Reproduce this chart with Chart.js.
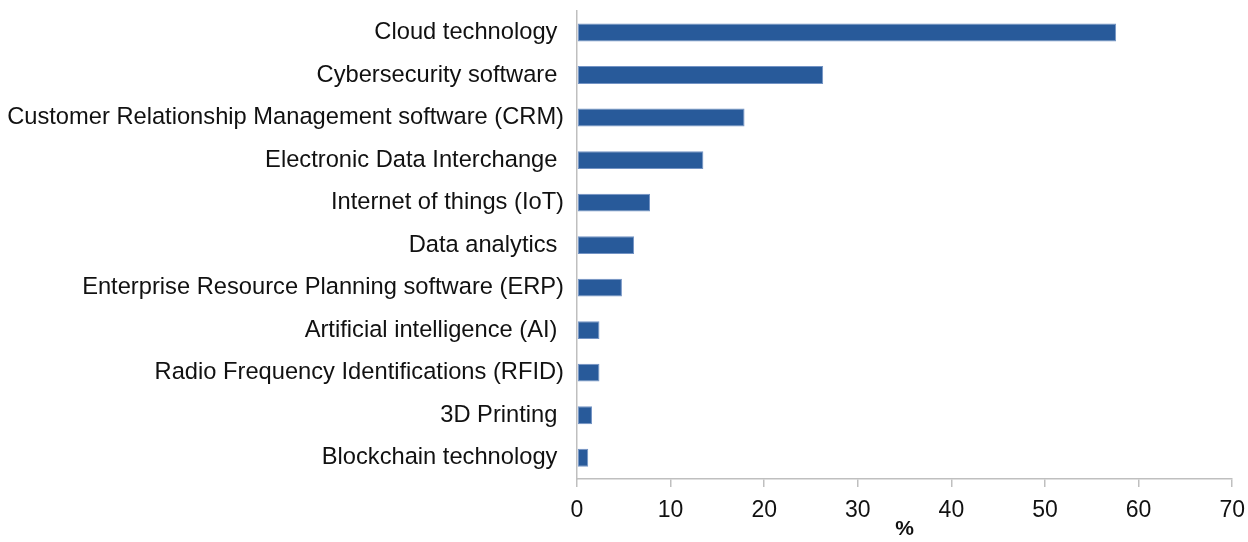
<!DOCTYPE html>
<html>
<head>
<meta charset="utf-8">
<script src="https://cdn.jsdelivr.net/npm/chart.js@4/dist/chart.umd.min.js"></script>
<style>
  html, body { margin: 0; padding: 0; background: #fff; overflow: hidden; }
  #frame { width: 1248px; height: 542px; position: relative; overflow: hidden; }
  #wrap { width: 1255px; height: 550px; position: absolute; left: 0; top: -8px; }
</style>
</head>
<body>
<div id="frame"><div id="wrap"><canvas id="chart"></canvas></div></div>
<script>
// values
const categories = [
  'Cloud technology ',
  'Cybersecurity software ',
  'Customer Relationship Management software (CRM)',
  'Electronic Data Interchange ',
  'Internet of things (IoT)',
  'Data analytics ',
  'Enterprise Resource Planning software (ERP)',
  'Artificial intelligence (AI) ',
  'Radio Frequency Identifications (RFID)',
  '3D Printing ',
  'Blockchain technology '
];
const shares = [57.6, 26.3, 17.9, 13.5, 7.8, 6.1, 4.8, 2.4, 2.4, 1.6, 1.2];
const xTicks = [0, 10, 20, 30, 40, 50, 60, 70];

const fontFamily = "'Liberation Sans', Arial, sans-serif";

const ctx = document.getElementById('chart').getContext('2d');
new Chart(ctx, {
  type: 'bar',
  data: {
    labels: categories,
    datasets: [{
      data: shares,
      backgroundColor: '#285a9a',
      borderColor: '#7393c4',
      borderWidth: 1,
      borderSkipped: false,
      categoryPercentage: 1,
      barPercentage: 0.42
    }]
  },
  options: {
    indexAxis: 'y',
    responsive: true,
    maintainAspectRatio: false,
    animation: false,
    layout: { padding: 0 },
    plugins: {
      legend: { display: false },
      tooltip: { enabled: false }
    },
    scales: {
      x: {
        min: 0,
        max: 70,
        afterBuildTicks: function(scale) {
          scale.ticks = xTicks.map(v => ({ value: v }));
        },
        afterFit: function(scale) { scale.height = 63; },
        border: { display: true, color: '#bfbfbf', width: 1.5 },
        grid: {
          drawOnChartArea: false,
          drawTicks: true,
          tickLength: 8,
          color: '#bfbfbf',
          lineWidth: 1.5
        },
        ticks: {
          padding: 10,
          color: '#111',
          font: { family: fontFamily, size: 23 }
        },
        title: {
          display: true,
          text: '%',
          color: '#111',
          padding: { top: 3, bottom: 0 },
          font: { family: fontFamily, size: 21, weight: 'bold' }
        }
      },
      y: {
        afterFit: function(scale) { scale.width = 577; },
        border: { display: true, color: '#bfbfbf', width: 1.5 },
        grid: { display: false },
        ticks: {
          padding: 5,
          autoSkip: false,
          color: '#111',
          font: { family: fontFamily, size: 23.7 }
        }
      }
    }
  }
});
</script>
</body>
</html>
